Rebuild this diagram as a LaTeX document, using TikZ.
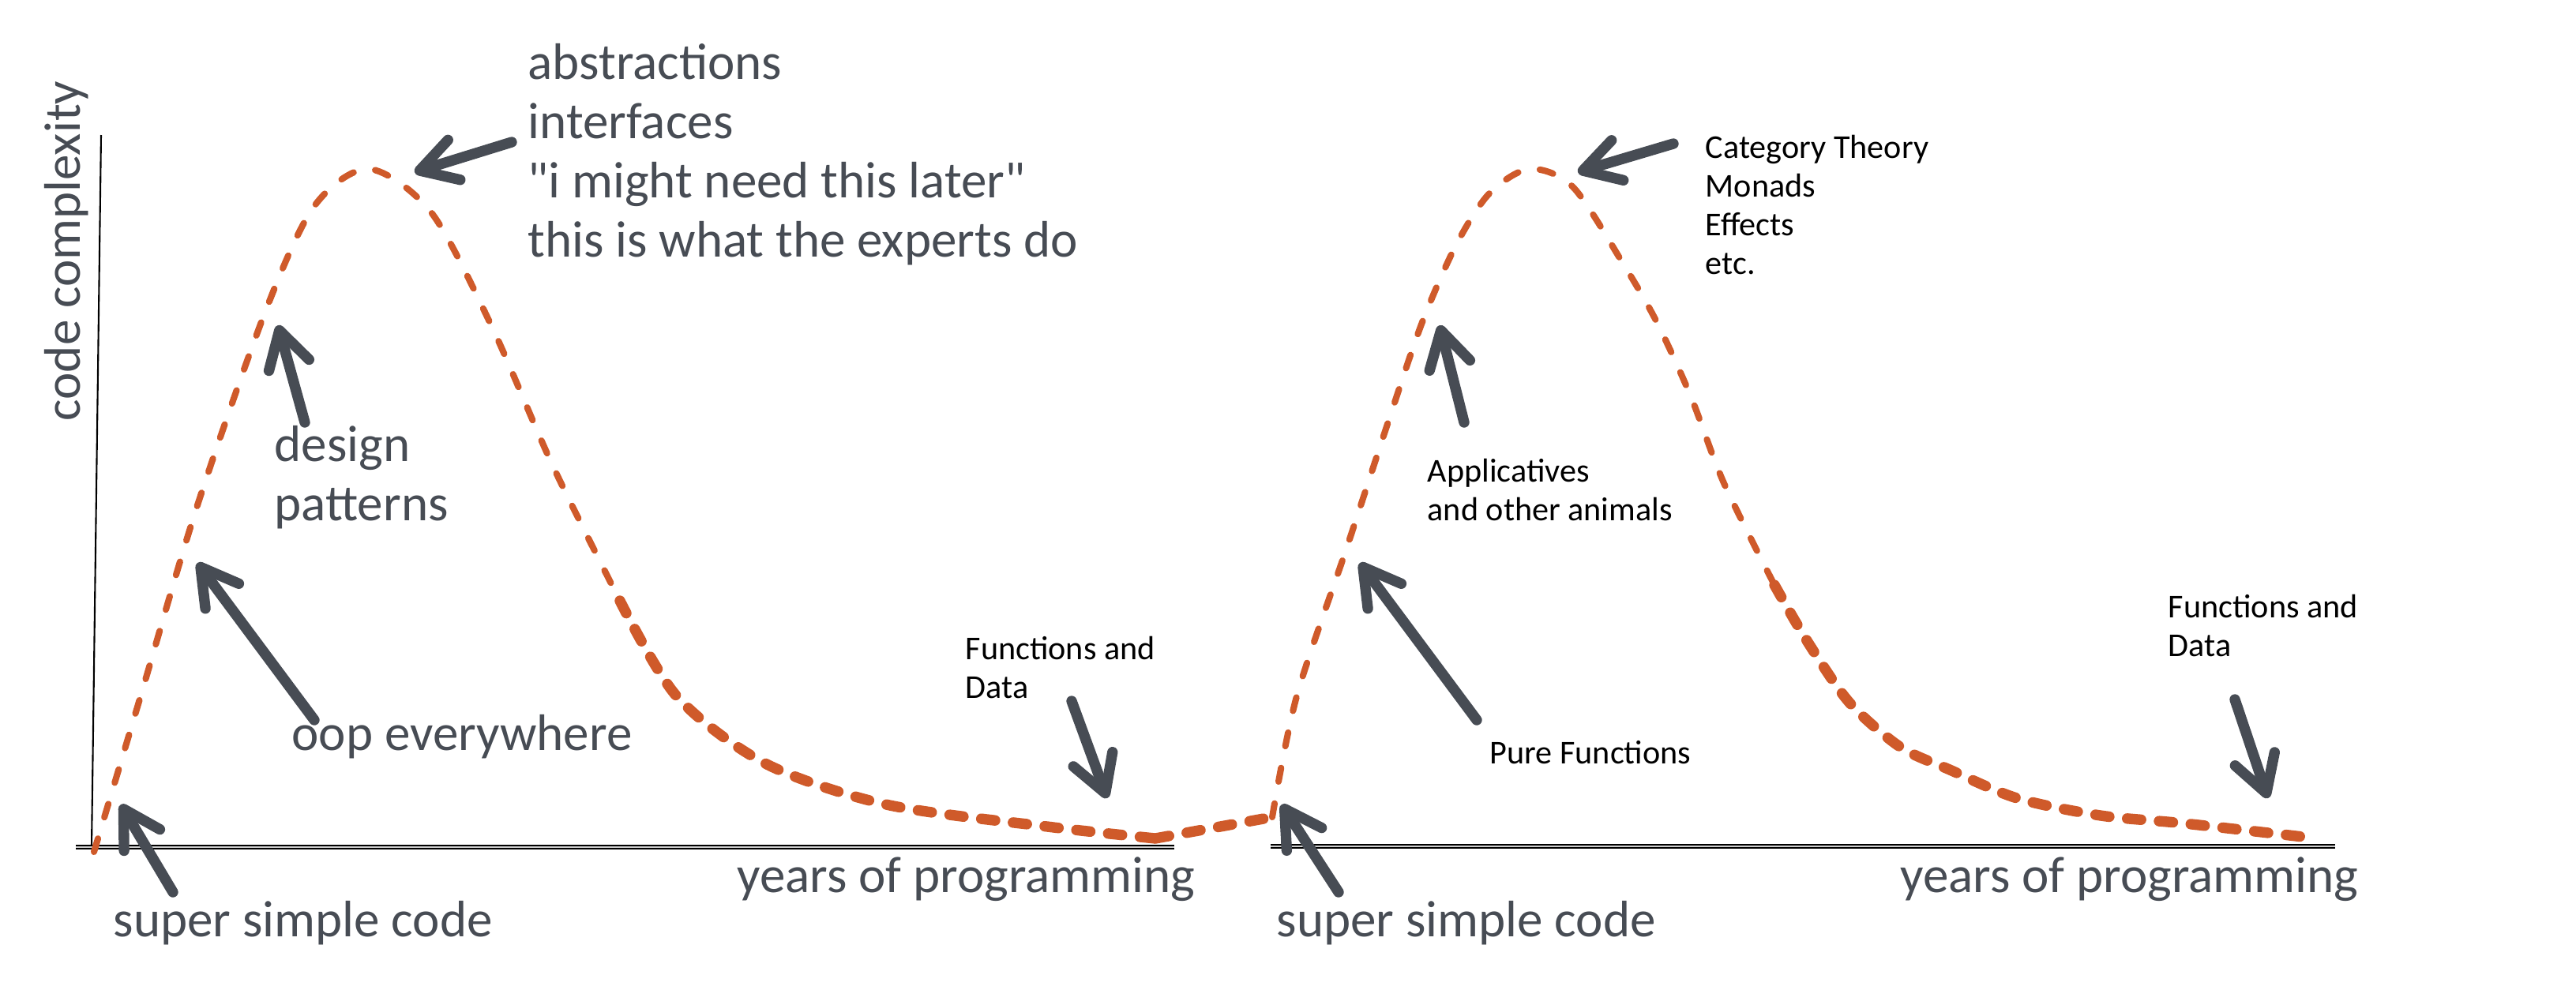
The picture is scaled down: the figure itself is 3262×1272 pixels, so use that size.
\documentclass[tikz,border=0pt]{standalone}
\usepackage{fontspec}
\setmainfont{Carlito}
\newfontfamily\handfont{Carlito}
\usetikzlibrary{arrows.meta}
\definecolor{inkgrey}{HTML}{474C54}
\definecolor{curveorange}{HTML}{CF5A2A}

\begin{document}
\begin{tikzpicture}[
    x=0.01cm, y=-0.01cm,
    hand/.style={inner sep=0pt, text=inkgrey, font=\handfont\fontsize{18.5}{21.3}\selectfont, align=left},
    note/.style={inner sep=0pt, text=black, font=\fontsize{12}{14}\selectfont, align=left},
    pointer/.style={draw=inkgrey, line width=3.8pt, line cap=round, line join=round, -{Straight Barb[length=13pt, width=15pt, round]}},
    curve/.style={draw=curveorange, line cap=round, line width=2.3pt, dash pattern=on 5pt off 8pt},
    tail/.style={draw=curveorange, line cap=round, line width=3.8pt, dash pattern=on 5pt off 6.5pt},
    axis/.style={draw=black, line width=0.6pt}
]
\useasboundingbox (0,0) rectangle (3262,1272);

% axes
\draw[axis] (128,171) -- (116,1073);
\draw[axis, double=gray!40, double distance=0.6pt] (96,1073) -- (1487,1073);
\draw[axis, double=gray!40, double distance=0.6pt] (1609,1072) -- (2957,1072);
\node[hand, rotate=90] (ylabel) at (84,318) {code complexity};

% left hump
\draw[curve] plot[smooth] coordinates {(119,1079) (178,882) (250,640) (337,392) (398,261) (467,214) (546,269) (622,412) (700,590) (785,761)};
\draw[tail] plot[smooth] coordinates {(785,761) (857,882) (969,967) (1122,1019) (1326,1047) (1463,1062)};
% right hump
\draw[curve] plot[smooth] coordinates {(1611,1035) (1642,882) (1706,692) (1759,531) (1801,408) (1844,310) (1886,245) (1937,214) (1992,237) (2056,335) (2098,408) (2141,502) (2183,612) (2247,741)};
\draw[tail] plot[smooth] coordinates {(2247,741) (2289,813) (2342,890) (2406,946) (2469,975) (2554,1011) (2660,1033) (2766,1043) (2925,1061)};
\coordinate (lend) at (1463,1062);
\coordinate (rstart) at (1611,1035);
\draw[tail] (lend) -- (rstart);

% left labels
\node[hand, anchor=north west] (abstr) at (668,55) {abstractions\\interfaces\\"i might need this later"\\this is what the experts do};
\node[hand, anchor=north west] (dpat) at (347,539) {design\\patterns};
\node[hand, anchor=base west] (oop) at (369,950) {oop everywhere};
\node[hand, anchor=base west] (simple1) at (143,1186) {super simple code};
\node[hand, anchor=base west] (years1) at (933,1130) {years of programming};
\node[note, anchor=north west] (fdata1) at (1222,805) {Functions and\\Data};

% right labels
\node[note, anchor=north west] (cat) at (2159,170) {Category Theory\\Monads\\Effects\\etc.};
\node[note, anchor=north west] (applic) at (1807,580) {Applicatives\\and other animals};
\node[note, anchor=base west] (pure) at (1886,967) {Pure Functions};
\node[hand, anchor=base west] (simple2) at (1616,1186) {super simple code};
\node[hand, anchor=base west] (years2) at (2406,1130) {years of programming};
\node[note, anchor=north west] (fdata2) at (2745,752) {Functions and\\Data};

% pointers, left
\coordinate (abstrT) at (648,180);   \coordinate (abstrH) at (525,218);
\coordinate (dpatT) at (386,535);    \coordinate (dpatH) at (352,412);
\coordinate (oopT) at (398,912);     \coordinate (oopH) at (250,713);
\coordinate (simple1T) at (219,1130); \coordinate (simple1H) at (153,1019);
\coordinate (fdata1T) at (1357,888); \coordinate (fdata1H) at (1402,1011);
\draw[pointer] (abstrT) -- (abstrH);
\draw[pointer] (dpatT) -- (dpatH);
\draw[pointer] (oopT) -- (oopH);
\draw[pointer] (simple1T) -- (simple1H);
\draw[pointer] (fdata1T) -- (fdata1H);

% pointers, right
\coordinate (catT) at (2119,182);    \coordinate (catH) at (1998,218);
\coordinate (applicT) at (1854,535); \coordinate (applicH) at (1823,412);
\coordinate (pureT) at (1870,912);   \coordinate (pureH) at (1722,713);
\coordinate (simple2T) at (1695,1130); \coordinate (simple2H) at (1623,1019);
\coordinate (fdata2T) at (2830,886); \coordinate (fdata2H) at (2872,1011);
\draw[pointer] (catT) -- (catH);
\draw[pointer] (applicT) -- (applicH);
\draw[pointer] (pureT) -- (pureH);
\draw[pointer] (simple2T) -- (simple2H);
\draw[pointer] (fdata2T) -- (fdata2H);

\end{tikzpicture}
\end{document}
